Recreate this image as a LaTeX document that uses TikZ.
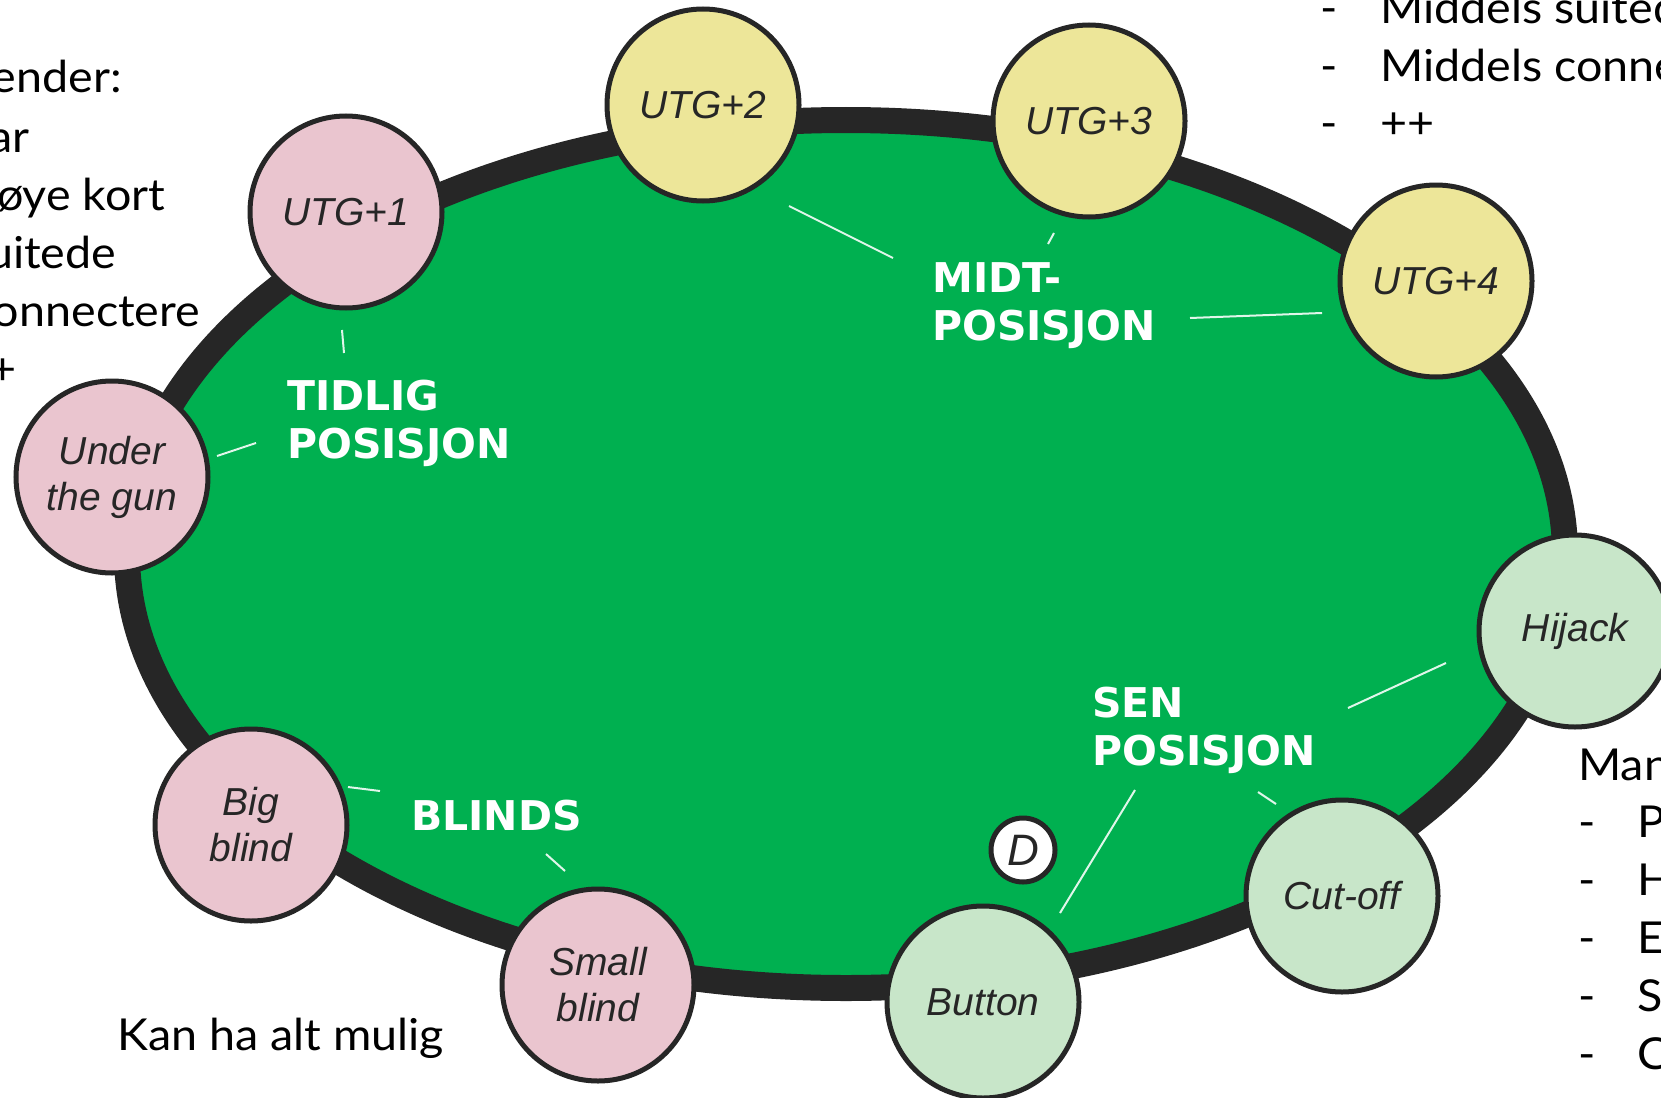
\documentclass[tikz,border=0pt]{standalone}
\usepackage{fontspec}
\setmainfont{Lato}[FakeStretch=1.06]
\newfontfamily\seatfont{Liberation Sans}
\newfontfamily\posfont{DejaVu Sans}
\begin{document}
\begin{tikzpicture}[x=1pt,y=-1pt,
  seat/.style={circle,draw=kRail,line width=5pt,minimum size=192pt,inner sep=0pt,align=center,text=kRail,font=\seatfont\itshape\fontsize{39}{46}\selectfont},
  grouplabel/.style={text=white,align=left,inner sep=0pt,font=\posfont\bfseries\fontsize{41}{48}\selectfont},
  leader/.style={draw=white!88!kFelt,line width=2pt},
  note/.style={inner sep=0pt,font=\fontsize{44}{58}\selectfont}]
  % colors
  \definecolor{kFelt}{RGB}{0,176,80}
  \definecolor{kRail}{RGB}{38,38,38}
  \definecolor{kPink}{RGB}{234,197,207}
  \definecolor{kYellow}{RGB}{237,230,153}
  \definecolor{kMint}{RGB}{200,230,201}
  % frame
  \useasboundingbox (0,0) rectangle (1661,1097);
  \clip (0,0) rectangle (1661,1097);
  % table
  \draw[fill=kFelt,draw=kRail,line width=26pt] (846,554) ellipse [x radius=719pt,y radius=434pt];
  % leader lines
  \foreach \n/\x/\y in {ta/342/330, tb/344/353, tc/217/456, td/256/443,
                        ma/789/206, mb/893/258, mc/1048/244, md/1054/233, me/1190/318, mf/1322/313,
                        sa/1348/708, sb/1446/663, sc/1258/792, sd/1276/804, se/1135/790, sf/1060/913,
                        ba/348/787, bb/380/791, bc/546/854, bd/565/871}
    \coordinate (\n) at (\x,\y);
  \foreach \a/\b in {ta/tb, tc/td, ma/mb, mc/md, me/mf, sa/sb, sc/sd, se/sf, ba/bb, bc/bd}
    \draw[leader] (\a) -- (\b);
  % position groups
  \node[grouplabel,anchor=north west] (tidlig) at (287,380) {TIDLIG\\POSISJON};
  \node[grouplabel,anchor=north west] (midt) at (932,262) {MIDT-\\POSISJON};
  \node[grouplabel,anchor=north west] (sen) at (1092,687) {SEN\\POSISJON};
  \node[grouplabel,anchor=north west] (blinds) at (411,800) {BLINDS};
  % seats
  \foreach \n/\x/\y/\c/\t in {utg/112/477/kPink/{Under\\the gun}, utgA/346/212/kPink/{UTG+1},
                              bigb/251/825/kPink/{Big\\blind}, smallb/598/985/kPink/{Small\\blind},
                              utgB/703/105/kYellow/{UTG+2}, utgC/1089/121/kYellow/{UTG+3}, utgD/1436/281/kYellow/{UTG+4},
                              hijack/1575/631/kMint/{Hijack}, cutoff/1342/896/kMint/{Cut-off}, button/983/1002/kMint/{Button}}
    \node[seat,fill=\c] (\n) at (\x,\y) {\t};
  \node[seat,fill=white,minimum size=64pt,font=\seatfont\itshape\fontsize{44}{44}\selectfont] (dealer) at (1023,850) {D};
  % notes
  \node[note,anchor=base east] (tlhead) at (122,93) {Åpningshender:};
  \foreach \t [count=\i from 0] in {Par,Høye kort,Suitede,Connectere,++}
    \node[note,anchor=base west] (tl\i) at (-38,152+58*\i) {\t};
  \foreach \t [count=\i from 0] in {Middels suitede,Middels connectere,++}
  {
    \node[note,anchor=base west] (trdash\i) at (1320,24+57.5*\i) {-};
    \node[note,anchor=base west] (tr\i) at (1380,24+57.5*\i) {\t};
  }
  \node[note,anchor=base west] (brhead) at (1578,780) {Mange hender:};
  \foreach \t [count=\i from 0] in {Par,Høye kort,Ess-x,Suitede,Connectere}
  {
    \node[note,anchor=base west] (brdash\i) at (1578,837+58*\i) {-};
    \node[note,anchor=base west] (br\i) at (1637,837+58*\i) {\t};
  }
  \node[note,anchor=base west] (anything) at (117,1050) {Kan ha alt mulig};
\end{tikzpicture}
\end{document}
